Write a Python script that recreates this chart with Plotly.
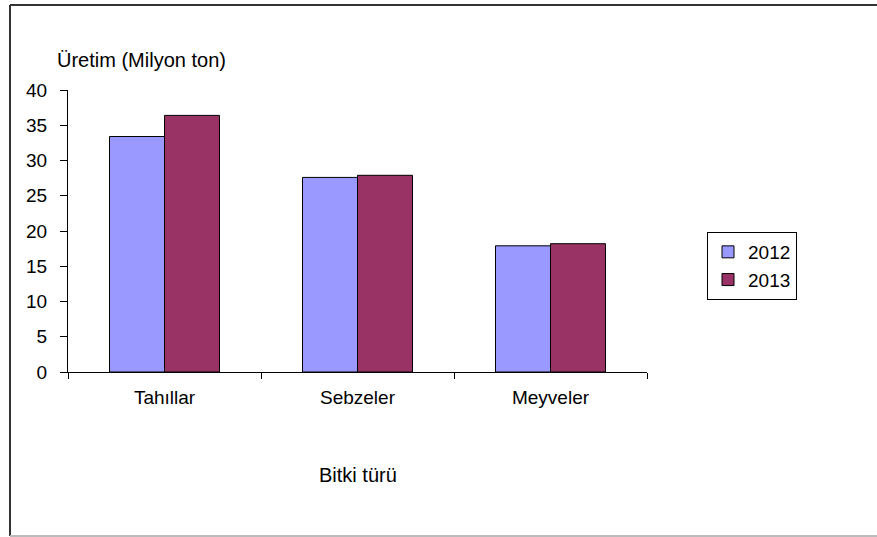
import plotly.graph_objects as go

categories = ["Tahıllar", "Sebzeler", "Meyveler"]
years = ["2012", "2013"]
values_2012 = [33.4, 27.6, 17.9]
values_2013 = [36.4, 27.9, 18.2]
colors = ["#9999FF", "#993366"]
y_ticks = [0, 5, 10, 15, 20, 25, 30, 35, 40]

FONT = "Liberation Sans, Arial, sans-serif"
W, H = 877, 537
L, R, T, B = 68, 230, 90, 165
pw = W - L - R
ph = H - T - B

def px_x(x):
    return (x - L) / pw

def px_y(y):
    return (H - B - y) / ph

fig = go.Figure()
for name, vals, col in zip(years, [values_2012, values_2013], colors):
    fig.add_trace(go.Bar(
        x=categories, y=vals, name=name,
        marker=dict(color=col, line=dict(color="#000000", width=1)),
    ))

fig.update_layout(
    width=W, height=H,
    margin=dict(l=L, r=R, t=T, b=B, autoexpand=False),
    paper_bgcolor="white", plot_bgcolor="white",
    barmode="group", bargap=0.43, bargroupgap=0,
    font=dict(family=FONT, size=19, color="#000000"),
    showlegend=True,
    legend=dict(
        x=px_x(707), y=px_y(232), xanchor="left", yanchor="top",
        bordercolor="#000000", borderwidth=1, bgcolor="white",
        font=dict(family=FONT, size=19, color="#000000"),
        itemwidth=30, tracegroupgap=0,
    ),
    xaxis=dict(
        showline=True, linecolor="#000000", linewidth=1,
        ticks="outside", ticklen=6, tickcolor="#000000",
        tickson="boundaries", showgrid=False,
        tickfont=dict(size=19), ticklabelstandoff=8,
    ),
    yaxis=dict(
        range=[0, 40], tickvals=y_ticks, showline=True, linecolor="#000000",
        linewidth=1, ticks="outside", ticklen=7, tickcolor="#000000",
        showgrid=False, zeroline=False, tickfont=dict(size=19),
        ticklabelstandoff=9,
    ),
    annotations=[
        dict(text="Üretim (Milyon ton)", xref="paper", yref="paper",
             x=px_x(55), y=px_y(60), xanchor="left", yanchor="middle",
             showarrow=False, font=dict(size=20)),
        dict(text="Bitki türü", xref="paper", yref="paper",
             x=0.5, y=px_y(475), xanchor="center", yanchor="middle",
             showarrow=False, font=dict(size=20)),
    ],
    shapes=[
        dict(type="line", xref="paper", yref="paper",
             x0=px_x(10), x1=px_x(877), y0=px_y(5), y1=px_y(5),
             line=dict(color="#333333", width=2)),
        dict(type="line", xref="paper", yref="paper",
             x0=px_x(10), x1=px_x(10), y0=px_y(5), y1=px_y(536),
             line=dict(color="#333333", width=2)),
        dict(type="line", xref="paper", yref="paper",
             x0=px_x(10), x1=px_x(877), y0=px_y(536), y1=px_y(536),
             line=dict(color="#BBBBBB", width=2)),
    ],
)

fig.write_html("out.html", config={"displayModeBar": False},
               post_script="document.body.style.margin='0';")
